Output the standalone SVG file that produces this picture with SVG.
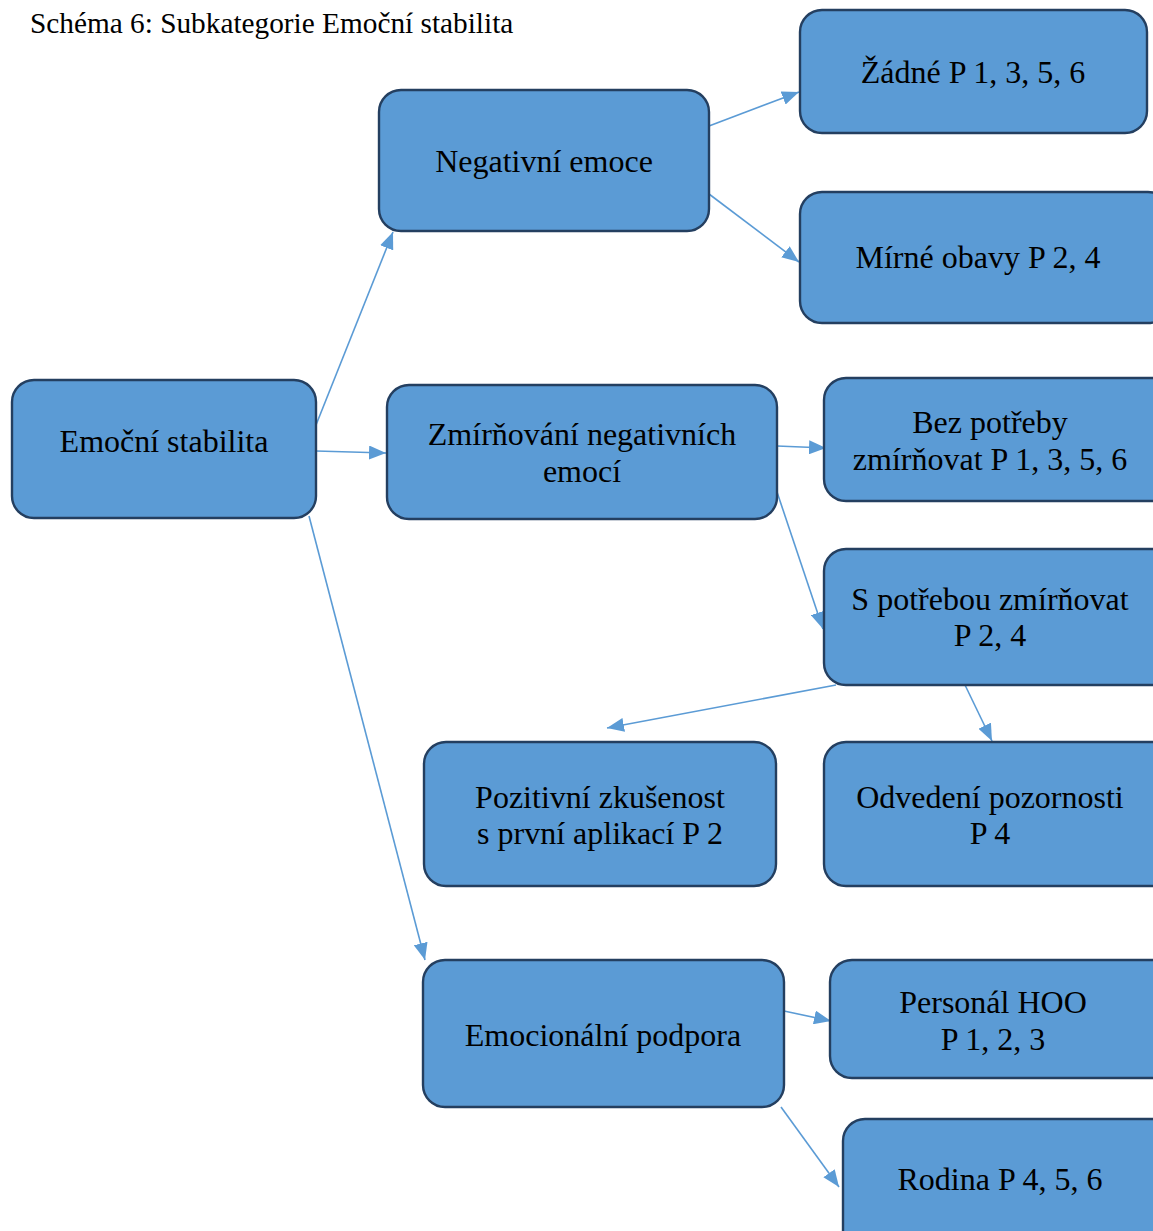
<svg xmlns="http://www.w3.org/2000/svg" width="1153" height="1231" viewBox="0 0 1153 1231">
  <defs>
    <marker id="arrow" viewBox="0 0 10 10" preserveAspectRatio="none" refX="10" refY="5" markerWidth="17" markerHeight="14" markerUnits="userSpaceOnUse" orient="auto">
      <path d="M0,0 L10,5 L0,10 z" fill="#5b9bd5"/>
    </marker>
    <style>
      .box { fill: #5b9bd5; stroke: #243f60; stroke-width: 2.4; }
      .lbl { font-family: "Liberation Serif", "Times New Roman", serif; font-size: 32px; fill: #000; text-anchor: middle; }
      .title { font-family: "Liberation Serif", "Times New Roman", serif; font-size: 29.3px; fill: #000; }
      .edge { stroke: #5b9bd5; stroke-width: 1.6; fill: none; marker-end: url(#arrow); }
    </style>
  </defs>
  <rect width="1153" height="1231" fill="#fff"/>

  <text class="title" x="30" y="33">Schéma 6: Subkategorie Emoční stabilita</text>

  <g id="connectors">
    <line class="edge" x1="316" y1="425" x2="393" y2="232"/>
    <line class="edge" x1="709" y1="126" x2="799" y2="92"/>
    <line class="edge" x1="709" y1="194" x2="799" y2="262"/>
    <line class="edge" x1="316" y1="451" x2="386" y2="453"/>
    <line class="edge" x1="777" y1="446" x2="826" y2="448"/>
    <line class="edge" x1="777" y1="492" x2="823" y2="629"/>
    <line class="edge" x1="836" y1="685" x2="607" y2="728"/>
    <line class="edge" x1="965" y1="685" x2="992" y2="741"/>
    <line class="edge" x1="309" y1="516" x2="425" y2="960"/>
    <line class="edge" x1="784" y1="1011" x2="831" y2="1021"/>
    <line class="edge" x1="781" y1="1107" x2="839" y2="1187"/>
  </g>

  <g id="emocni-stabilita">
    <rect class="box" x="12" y="380" width="304" height="138" rx="22"/>
    <text class="lbl" x="164" y="452">Emoční stabilita</text>
  </g>

  <g id="negativni-emoce">
    <rect class="box" x="379" y="90" width="330" height="141" rx="22"/>
    <text class="lbl" x="544" y="172">Negativní emoce</text>
  </g>

  <g id="zadne">
    <rect class="box" x="800" y="10" width="347" height="123" rx="22"/>
    <text class="lbl" x="973" y="83">Žádné P 1, 3, 5, 6</text>
  </g>

  <g id="mirne-obavy">
    <rect class="box" x="800" y="192" width="370" height="131" rx="22"/>
    <text class="lbl" x="978" y="268">Mírné obavy P 2, 4</text>
  </g>

  <g id="zmirnovani">
    <rect class="box" x="387" y="385" width="390" height="134" rx="22"/>
    <text class="lbl" x="582" y="445">Zmírňování negativních</text>
    <text class="lbl" x="582" y="482">emocí</text>
  </g>

  <g id="bez-potreby">
    <rect class="box" x="824" y="378" width="350" height="123" rx="22"/>
    <text class="lbl" x="990" y="433">Bez potřeby</text>
    <text class="lbl" x="990" y="470">zmírňovat P 1, 3, 5, 6</text>
  </g>

  <g id="s-potrebou">
    <rect class="box" x="824" y="549" width="350" height="136" rx="22"/>
    <text class="lbl" x="990" y="610">S potřebou zmírňovat</text>
    <text class="lbl" x="990" y="646">P 2, 4</text>
  </g>

  <g id="pozitivni-zkusenost">
    <rect class="box" x="424" y="742" width="352" height="144" rx="22"/>
    <text class="lbl" x="600" y="808">Pozitivní zkušenost</text>
    <text class="lbl" x="600" y="844">s první aplikací P 2</text>
  </g>

  <g id="odvedeni-pozornosti">
    <rect class="box" x="824" y="742" width="350" height="144" rx="22"/>
    <text class="lbl" x="990" y="808">Odvedení pozornosti</text>
    <text class="lbl" x="990" y="844">P 4</text>
  </g>

  <g id="emocionalni-podpora">
    <rect class="box" x="423" y="960" width="361" height="147" rx="22"/>
    <text class="lbl" x="603" y="1046">Emocionální podpora</text>
  </g>

  <g id="personal-hoo">
    <rect class="box" x="830" y="960" width="350" height="118" rx="22"/>
    <text class="lbl" x="993" y="1013">Personál HOO</text>
    <text class="lbl" x="993" y="1050">P 1, 2, 3</text>
  </g>

  <g id="rodina">
    <rect class="box" x="843" y="1119" width="340" height="140" rx="22"/>
    <text class="lbl" x="1000" y="1190">Rodina P 4, 5, 6</text>
  </g>
</svg>
